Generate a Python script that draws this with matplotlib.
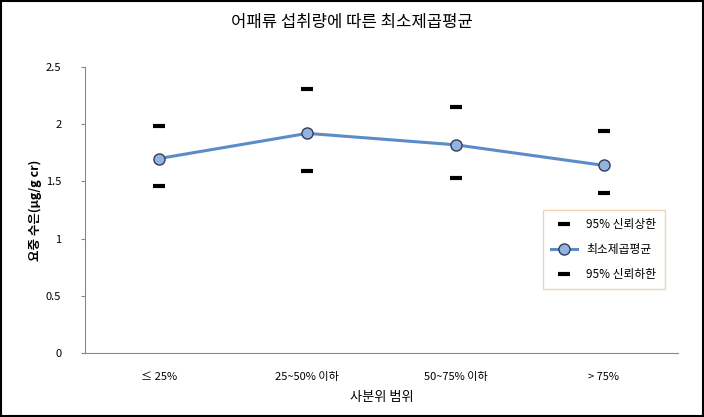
import numpy as np
import matplotlib
matplotlib.use("Agg")
import matplotlib.pyplot as plt
from matplotlib.patches import Rectangle

plt.rcParams['font.family'] = ['Noto Sans CJK KR', 'DejaVu Sans']

categories = ["≤ 25%", "25~50% 이하", "50~75% 이하", "> 75%"]
mean_vals = [1.70, 1.92, 1.82, 1.64]
upper_vals = [1.98, 2.31, 2.15, 1.94]
lower_vals = [1.46, 1.59, 1.53, 1.40]

fig = plt.figure(figsize=(7.04, 4.17), dpi=100)
ax = fig.add_axes([0.1207, 0.1535, 0.8423, 0.6858])

x = np.arange(len(categories))
ax.plot(x, upper_vals, linestyle='none', marker='_', color='black',
        markersize=8, markeredgewidth=3, label='95% 신뢰상한')
ax.plot(x, mean_vals, color='#5b8cc8', linewidth=2.2, marker='o',
        markersize=8, markerfacecolor='#94b3de', markeredgecolor='#2e3f5c',
        markeredgewidth=1, label='최소제곱평균')
ax.plot(x, lower_vals, linestyle='none', marker='_', color='black',
        markersize=8, markeredgewidth=3, label='95% 신뢰하한')

ax.set_xlim(-0.5, 3.5)
ax.set_ylim(0, 2.5)
ax.set_yticks([0, 0.5, 1, 1.5, 2, 2.5])
ax.set_yticklabels(['0', '0.5', '1', '1.5', '2', '2.5'])
ax.set_xticks(x)
ax.set_xticklabels(categories)
ax.tick_params(axis='both', labelsize=8, color='#888888', length=3)
ax.tick_params(axis='x', length=0, pad=14)
ax.tick_params(axis='y', pad=14)
for s in ['top', 'right']:
    ax.spines[s].set_visible(False)
for s in ['left', 'bottom']:
    ax.spines[s].set_color('#888888')

ax.set_xlabel('사분위 범위', fontsize=9.5, labelpad=6)
ax.set_ylabel('요중 수은(μg/g cr)', fontsize=9, fontweight='bold', labelpad=3)
fig.text(0.5, 0.945, '어패류 섭취량에 따른 최소제곱평균', ha='center', va='center', fontsize=12)

leg = ax.legend(loc='upper left', bbox_to_anchor=(0.772, 0.5), fontsize=8.5,
                frameon=True, fancybox=False, borderpad=0.7, handlelength=2.2,
                labelspacing=1.0, borderaxespad=0)
leg.get_frame().set_edgecolor('#f0c8a0')
leg.get_frame().set_linewidth(1)

fig.patches.append(Rectangle((0.001, 0.002), 0.997, 0.995, transform=fig.transFigure,
                             fill=False, edgecolor='black', linewidth=1.5))

fig.savefig('out.png', dpi=100)
